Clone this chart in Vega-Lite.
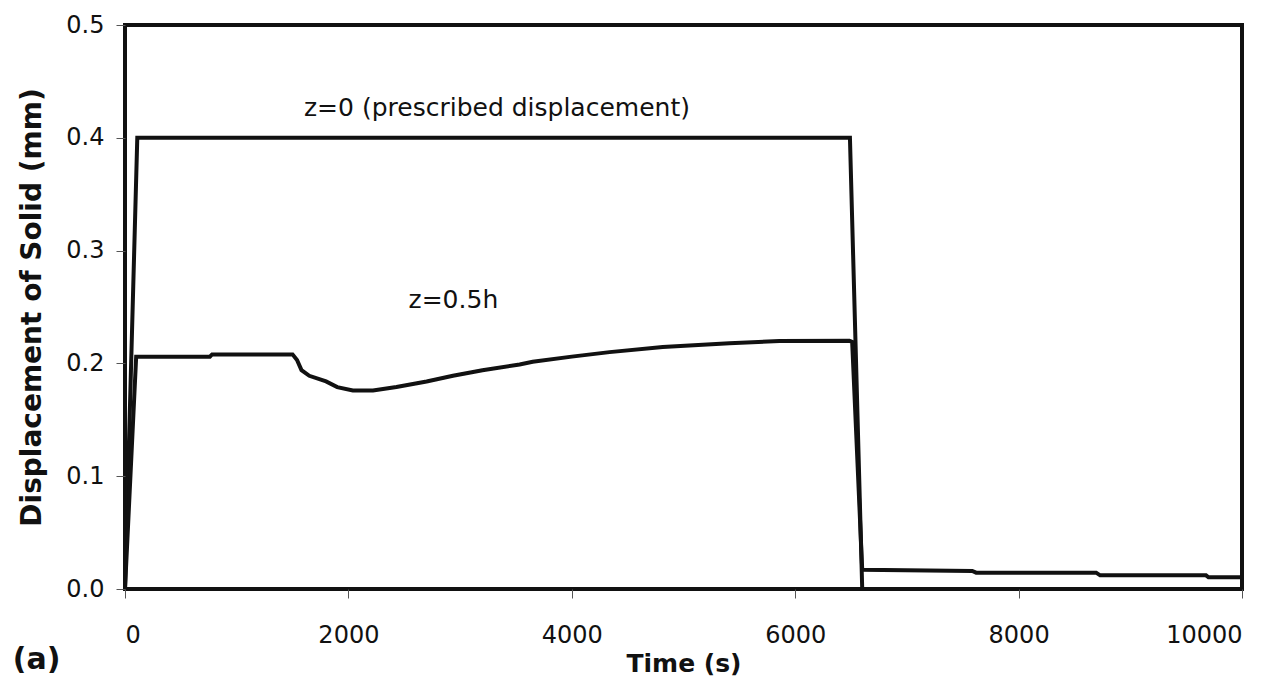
{
  "$schema": "https://vega.github.io/schema/vega-lite/v6.json",
  "width": 1117,
  "height": 564,
  "autosize": {"type": "none"},
  "padding": {"left": 125, "top": 25, "right": 46, "bottom": 93},
  "background": "white",
  "config": {
    "view": {"stroke": "#111", "strokeWidth": 4},
    "font": "DejaVu Sans",
    "axis": {
      "grid": false,
      "domain": false,
      "tickColor": "#555",
      "tickWidth": 1,
      "tickSize": 9,
      "labelFont": "DejaVu Sans",
      "labelFontSize": 24,
      "labelColor": "#111",
      "titleFont": "DejaVu Sans",
      "titleFontSize": 25,
      "titleFontWeight": "bold",
      "titleColor": "#111"
    }
  },
  "title": {
    "text": "(a)",
    "orient": "bottom",
    "anchor": "start",
    "frame": "bounds",
    "fontSize": 30,
    "fontWeight": "bold",
    "font": "DejaVu Sans",
    "color": "#111",
    "offset": -31,
    "dx": -6
  },
  "datasets": {
    "curves": [
      {"t": 0, "d": 0, "series": "z=0"},
      {"t": 110, "d": 0.4, "series": "z=0"},
      {"t": 6490, "d": 0.4, "series": "z=0"},
      {"t": 6600, "d": 0, "series": "z=0"},
      {"t": 10000, "d": 0, "series": "z=0"},
      {"t": 0, "d": 0, "series": "z=0.5h"},
      {"t": 100, "d": 0.206, "series": "z=0.5h"},
      {"t": 760, "d": 0.206, "series": "z=0.5h"},
      {"t": 780, "d": 0.208, "series": "z=0.5h"},
      {"t": 1500, "d": 0.208, "series": "z=0.5h"},
      {"t": 1540, "d": 0.203, "series": "z=0.5h"},
      {"t": 1580, "d": 0.194, "series": "z=0.5h"},
      {"t": 1650, "d": 0.189, "series": "z=0.5h"},
      {"t": 1800, "d": 0.184, "series": "z=0.5h"},
      {"t": 1900, "d": 0.179, "series": "z=0.5h"},
      {"t": 2040, "d": 0.176, "series": "z=0.5h"},
      {"t": 2220, "d": 0.176, "series": "z=0.5h"},
      {"t": 2430, "d": 0.179, "series": "z=0.5h"},
      {"t": 2700, "d": 0.184, "series": "z=0.5h"},
      {"t": 2936, "d": 0.189, "series": "z=0.5h"},
      {"t": 3200, "d": 0.194, "series": "z=0.5h"},
      {"t": 3533, "d": 0.199, "series": "z=0.5h"},
      {"t": 3650, "d": 0.2015, "series": "z=0.5h"},
      {"t": 4000, "d": 0.206, "series": "z=0.5h"},
      {"t": 4338, "d": 0.21, "series": "z=0.5h"},
      {"t": 4814, "d": 0.2145, "series": "z=0.5h"},
      {"t": 5411, "d": 0.2178, "series": "z=0.5h"},
      {"t": 5859, "d": 0.2199, "series": "z=0.5h"},
      {"t": 6485, "d": 0.22, "series": "z=0.5h"},
      {"t": 6510, "d": 0.219, "series": "z=0.5h"},
      {"t": 6600, "d": 0.017, "series": "z=0.5h"},
      {"t": 7585, "d": 0.016, "series": "z=0.5h"},
      {"t": 7620, "d": 0.0145, "series": "z=0.5h"},
      {"t": 8694, "d": 0.0145, "series": "z=0.5h"},
      {"t": 8730, "d": 0.0121, "series": "z=0.5h"},
      {"t": 9678, "d": 0.0121, "series": "z=0.5h"},
      {"t": 9700, "d": 0.0104, "series": "z=0.5h"},
      {"t": 10000, "d": 0.0104, "series": "z=0.5h"}
    ],
    "labels": [
      {"t": 3330, "d": 0.426, "label": "z=0 (prescribed displacement)"},
      {"t": 2940, "d": 0.256, "label": "z=0.5h"}
    ]
  },
  "layer": [
    {
      "data": {"name": "curves"},
      "mark": {"type": "line", "strokeWidth": 4, "color": "#111", "clip": true},
      "encoding": {
        "x": {
          "field": "t", "type": "quantitative",
          "scale": {"domain": [0, 10000], "nice": false},
          "axis": {"values": [0, 2000, 4000, 6000, 8000, 10000], "format": "d", "title": "Time (s)", "labelPadding": 25, "titlePadding": 4}
        },
        "y": {
          "field": "d", "type": "quantitative",
          "scale": {"domain": [0, 0.5], "nice": false},
          "axis": {"values": [0, 0.1, 0.2, 0.3, 0.4, 0.5], "format": ".1f", "title": "Displacement of Solid (mm)", "titleFontSize": 28, "labelPadding": 12, "titlePadding": 19}
        },
        "detail": {"field": "series", "type": "nominal"},
        "order": {"field": "t", "type": "quantitative"}
      }
    },
    {
      "data": {"name": "labels"},
      "mark": {"type": "text", "fontSize": 25, "color": "#111", "font": "DejaVu Sans", "align": "center", "baseline": "middle"},
      "encoding": {
        "x": {"field": "t", "type": "quantitative"},
        "y": {"field": "d", "type": "quantitative"},
        "text": {"field": "label", "type": "nominal"}
      }
    }
  ]
}
